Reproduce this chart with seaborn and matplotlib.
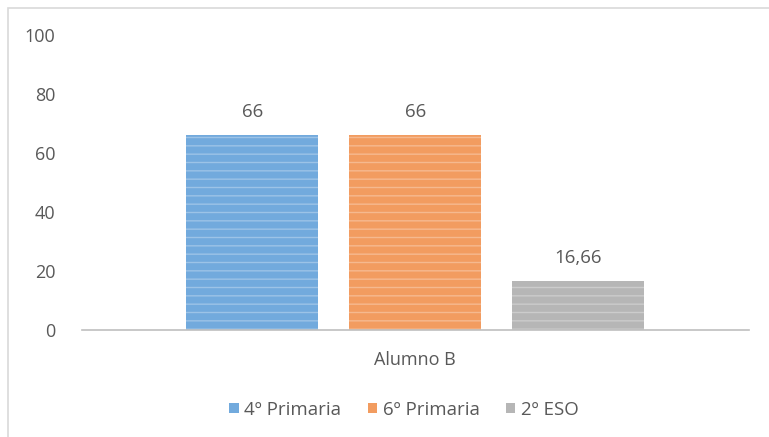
import numpy as np
import pandas as pd
import matplotlib
matplotlib.use("Agg")
import matplotlib.pyplot as plt
import seaborn as sns
from matplotlib.patches import Rectangle

# data
categories = ['Alumno B']
series = ['4º Primaria', '6º Primaria', '2º ESO']
values = [66, 66, 16.66]
colors = ['#72aadd', '#f29c60', '#b6b6b6']

df = pd.DataFrame({
    'alumno': categories * len(series),
    'curso': series,
    'valor': values,
})

sns.set_theme(style='white')
plt.rcParams['font.family'] = ['Open Sans', 'DejaVu Sans']
plt.rcParams['hatch.linewidth'] = 1.0

fig = plt.figure(figsize=(7.69, 4.37), dpi=100)
ax = fig.add_axes([0.106, 0.245, 0.868, 0.675])

sns.barplot(data=df, x='alumno', y='valor', hue='curso', palette=colors,
            width=0.733, gap=0.19, ax=ax, legend=True, saturation=1)

# striped look of the original bars
for bar in ax.patches:
    bar.set_hatch('--')
    bar.set_edgecolor((1, 1, 1, 0.3))
    bar.set_linewidth(0)

for cont in ax.containers:
    labels = [f'{v:g}'.replace('.', ',') for v in cont.datavalues]
    ax.bar_label(cont, labels=labels, padding=10, fontsize=13.5, color='#595959')

ax.set_ylim(0, 100)
ax.set_yticks(np.arange(0, 101, 20))
ax.tick_params(axis='both', labelsize=13, colors='#595959', length=0)
ax.tick_params(axis='y', pad=19)
ax.tick_params(axis='x', pad=15)
ax.set_xlabel('')
ax.set_ylabel('')
for s in ['top', 'right', 'left']:
    ax.spines[s].set_visible(False)
ax.spines['bottom'].set_color('#bfbfbf')
ax.spines['bottom'].set_linewidth(1.2)

handles, labs = ax.get_legend_handles_labels()
for h in handles:
    h.set_hatch(None)
ax.legend(handles, labs, loc='center', bbox_to_anchor=(0.483, -0.27), ncol=3,
          frameon=False, fontsize=13.5, labelcolor='#595959', handlelength=0.5,
          handleheight=0.5, handletextpad=0.3, columnspacing=1.4)

fig.add_artist(Rectangle((0.011, -0.01), 1.0, 0.992, transform=fig.transFigure,
                         fill=False, edgecolor='#d9d9d9', linewidth=1.2))

fig.savefig('out.png', dpi=100)
